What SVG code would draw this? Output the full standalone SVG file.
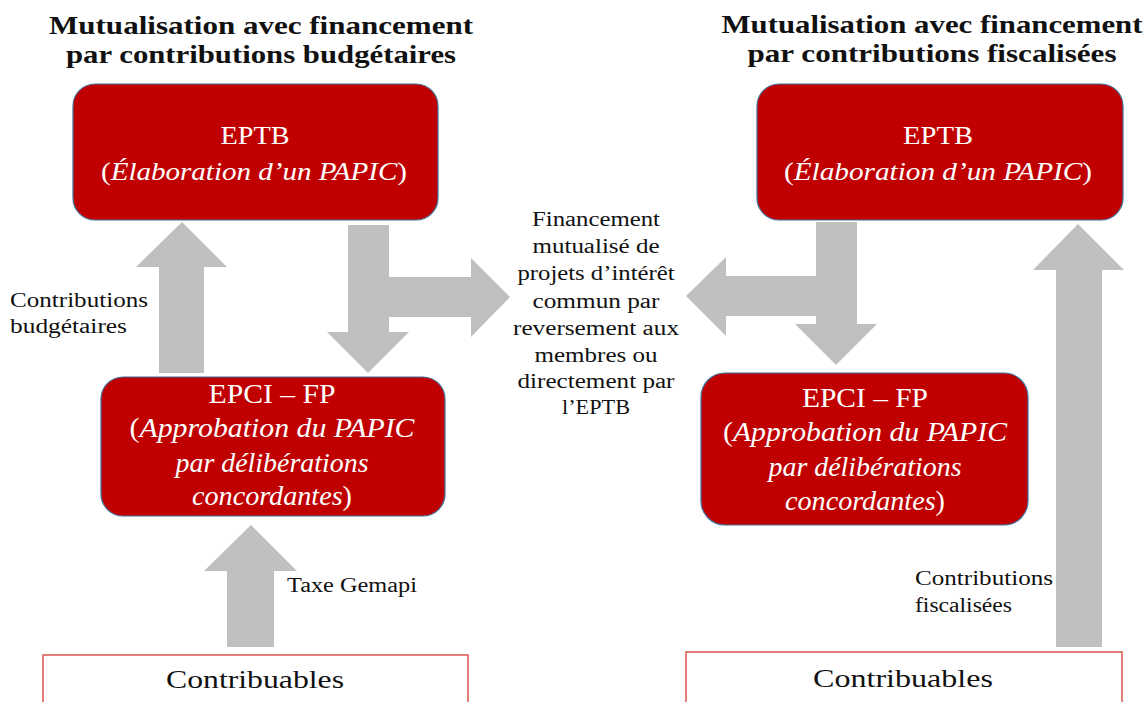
<svg xmlns="http://www.w3.org/2000/svg" width="1148" height="702" viewBox="0 0 1148 702">
<style>
.title{font-family:"Liberation Serif","Times New Roman",serif;font-weight:bold;font-size:26px;fill:#111;text-anchor:middle}
.box{fill:#C00000;stroke:#41719C;stroke-width:1.2}
.wt{font-family:"Liberation Serif","Times New Roman",serif;fill:#fff;text-anchor:middle}
.lbl{font-family:"Liberation Serif","Times New Roman",serif;font-size:20px;fill:#111}
.mid{font-family:"Liberation Serif","Times New Roman",serif;font-size:20px;fill:#111;text-anchor:middle}
.arr{fill:#BFBFBF}
.cb{fill:#fff;stroke:#D9534F;stroke-width:1.5}
.ct{font-family:"Liberation Serif","Times New Roman",serif;font-size:26px;fill:#111;text-anchor:middle}
</style>
<rect width="1148" height="702" fill="#fff"/>
<g id="titles">
<text class="title" x="261" y="34" textLength="424" lengthAdjust="spacingAndGlyphs">Mutualisation avec financement</text>
<text class="title" x="261" y="63" textLength="390" lengthAdjust="spacingAndGlyphs">par contributions budgétaires</text>
<text class="title" x="932" y="33" textLength="421" lengthAdjust="spacingAndGlyphs">Mutualisation avec financement</text>
<text class="title" x="932" y="62" textLength="369" lengthAdjust="spacingAndGlyphs">par contributions fiscalisées</text>
</g>
<g id="connectors">
<polygon class="arr" points="182,222 227,267 204,267 204,373 159,373 159,267 136,267"/>
<path class="arr" d="M348,225 L389,225 L389,277 L471,277 L471,258 L510,297 L471,337 L471,317 L389,317 L389,332 L409,332 L368,373 L327,332 L348,332 Z"/>
<path class="arr" d="M816,222 L857,222 L857,324 L877,324 L836,365 L795,324 L816,324 L816,316 L726,316 L726,336 L686,296 L726,257 L726,276 L816,276 Z"/>
<polygon class="arr" points="1078,224 1124,270 1102,270 1102,647 1056,647 1056,270 1033,270"/>
<polygon class="arr" points="251,525 297,571 274,571 274,647 227,647 227,571 204,571"/>
</g>
<g id="eptb-left">
<rect class="box" x="73" y="84" width="365" height="136" rx="22"/>
<text class="wt" x="255" y="144" font-size="25" textLength="69" lengthAdjust="spacingAndGlyphs">EPTB</text>
<text class="wt" x="254" y="180" font-size="25" textLength="306" lengthAdjust="spacingAndGlyphs">(<tspan font-style="italic">Élaboration d’un PAPIC</tspan>)</text>
</g>
<g id="eptb-right">
<rect class="box" x="757" y="84" width="366" height="136" rx="22"/>
<text class="wt" x="938" y="144" font-size="25" textLength="70" lengthAdjust="spacingAndGlyphs">EPTB</text>
<text class="wt" x="938" y="180" font-size="25" textLength="308" lengthAdjust="spacingAndGlyphs">(<tspan font-style="italic">Élaboration d’un PAPIC</tspan>)</text>
</g>
<g id="epci-left">
<rect class="box" x="101" y="377" width="344" height="139" rx="22"/>
<text class="wt" x="272" y="403" font-size="27" textLength="127" lengthAdjust="spacingAndGlyphs">EPCI – FP</text>
<text class="wt" x="272" y="437" font-size="27" textLength="285" lengthAdjust="spacingAndGlyphs">(<tspan font-style="italic">Approbation du PAPIC</tspan></text>
<text class="wt" x="272" y="472" font-size="27" font-style="italic" textLength="193" lengthAdjust="spacingAndGlyphs">par délibérations</text>
<text class="wt" x="272" y="505" font-size="27" textLength="160" lengthAdjust="spacingAndGlyphs"><tspan font-style="italic">concordantes</tspan>)</text>
</g>
<g id="epci-right">
<rect class="box" x="701" y="373" width="327" height="152" rx="24"/>
<text class="wt" x="865" y="407" font-size="27" textLength="126" lengthAdjust="spacingAndGlyphs">EPCI – FP</text>
<text class="wt" x="865" y="441" font-size="27" textLength="284" lengthAdjust="spacingAndGlyphs">(<tspan font-style="italic">Approbation du PAPIC</tspan></text>
<text class="wt" x="865" y="476" font-size="27" font-style="italic" textLength="193" lengthAdjust="spacingAndGlyphs">par délibérations</text>
<text class="wt" x="865" y="510" font-size="27" textLength="160" lengthAdjust="spacingAndGlyphs"><tspan font-style="italic">concordantes</tspan>)</text>
</g>
<g id="middle-text">
<text class="mid" x="596" y="226" textLength="128" lengthAdjust="spacingAndGlyphs">Financement</text>
<text class="mid" x="596" y="253" textLength="127" lengthAdjust="spacingAndGlyphs">mutualisé de</text>
<text class="mid" x="596" y="280" textLength="157" lengthAdjust="spacingAndGlyphs">projets d’intérêt</text>
<text class="mid" x="596" y="308" textLength="127" lengthAdjust="spacingAndGlyphs">commun par</text>
<text class="mid" x="596" y="335" textLength="166" lengthAdjust="spacingAndGlyphs">reversement aux</text>
<text class="mid" x="596" y="362" textLength="123" lengthAdjust="spacingAndGlyphs">membres ou</text>
<text class="mid" x="596" y="388" textLength="157" lengthAdjust="spacingAndGlyphs">directement par</text>
<text class="mid" x="596" y="414" textLength="68" lengthAdjust="spacingAndGlyphs">l’EPTB</text>
</g>
<g id="labels">
<text class="lbl" x="10" y="307" textLength="138" lengthAdjust="spacingAndGlyphs">Contributions</text>
<text class="lbl" x="10" y="333" textLength="117" lengthAdjust="spacingAndGlyphs">budgétaires</text>
<text class="lbl" x="287" y="592" textLength="130" lengthAdjust="spacingAndGlyphs">Taxe Gemapi</text>
<text class="lbl" x="915" y="585" textLength="138" lengthAdjust="spacingAndGlyphs">Contributions</text>
<text class="lbl" x="915" y="612" textLength="97" lengthAdjust="spacingAndGlyphs">fiscalisées</text>
</g>
<g id="contribuables-left">
<rect class="cb" x="43" y="655" width="425" height="60"/>
<text class="ct" x="255" y="688" textLength="178" lengthAdjust="spacingAndGlyphs">Contribuables</text>
</g>
<g id="contribuables-right">
<rect class="cb" x="686" y="652" width="436" height="60"/>
<text class="ct" x="903" y="687" textLength="180" lengthAdjust="spacingAndGlyphs">Contribuables</text>
</g>
</svg>
